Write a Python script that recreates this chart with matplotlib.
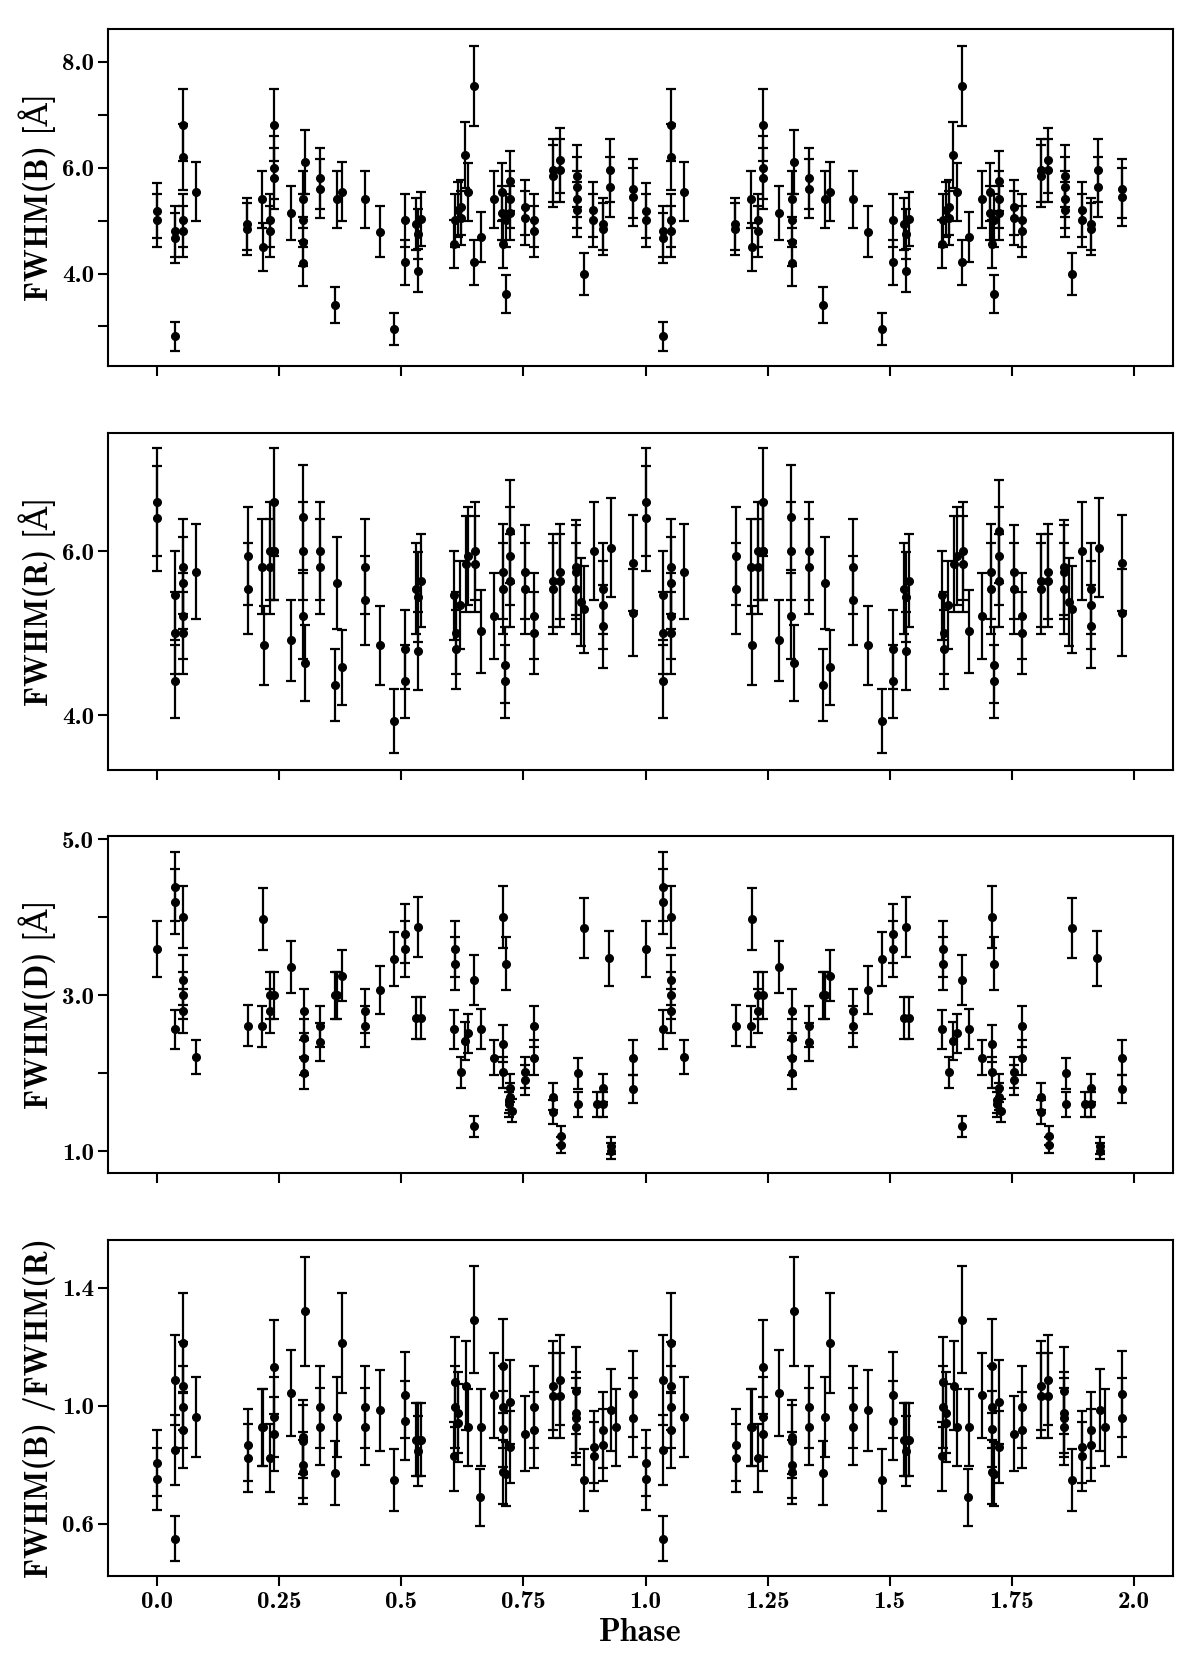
import numpy as np
import matplotlib.pyplot as plt

plt.rcParams['font.family'] = ['cmb10', 'DejaVu Serif']
plt.rcParams['font.weight'] = 'bold'
plt.rcParams['axes.unicode_minus'] = False

# FWHM of the blue peak, phase 0-1 (plotted twice)
phase_b = [0.000, 0.000, 0.036, 0.036, 0.036, 0.052, 0.052, 0.052, 0.052, 0.079,
           0.184, 0.184, 0.215, 0.217, 0.230, 0.230, 0.240, 0.240, 0.240, 0.273,
           0.303, 0.299, 0.299, 0.299, 0.299, 0.334, 0.334, 0.364, 0.368, 0.378,
           0.425, 0.456, 0.485, 0.507, 0.507, 0.529, 0.534, 0.534, 0.540, 0.608,
           0.610, 0.615, 0.621, 0.621, 0.630, 0.637, 0.648, 0.648, 0.663, 0.689,
           0.706, 0.706, 0.709, 0.714, 0.714, 0.723, 0.723, 0.723, 0.754, 0.754,
           0.772, 0.772, 0.810, 0.810, 0.825, 0.825, 0.860, 0.860, 0.860, 0.860,
           0.873, 0.893, 0.893, 0.912, 0.912, 0.927, 0.927, 0.975, 0.975]
fwhm_b = [5.19, 5.01, 4.80, 4.67, 2.81, 6.81, 6.20, 5.01, 4.80, 5.55,
          4.93, 4.84, 5.40, 4.50, 5.01, 4.80, 6.81, 6.00, 5.80, 5.14,
          6.11, 5.40, 5.01, 4.60, 4.19, 5.80, 5.60, 3.41, 5.40, 5.55,
          5.40, 4.79, 2.95, 5.01, 4.21, 4.93, 4.74, 4.05, 5.03, 4.55,
          5.01, 5.21, 5.25, 5.05, 6.24, 5.54, 7.55, 4.21, 4.69, 5.40,
          5.54, 5.14, 4.55, 3.61, 5.01, 5.75, 5.40, 5.14, 5.25, 5.05,
          5.01, 4.80, 5.95, 5.85, 6.14, 5.95, 5.84, 5.63, 5.40, 5.21,
          3.99, 5.21, 5.01, 4.94, 4.84, 5.95, 5.63, 5.60, 5.45]

# FWHM of the red peak
phase_r = [0.000, 0.000, 0.036, 0.036, 0.036, 0.052, 0.052, 0.052, 0.052, 0.079,
           0.185, 0.185, 0.215, 0.218, 0.230, 0.230, 0.240, 0.240, 0.240, 0.273,
           0.298, 0.298, 0.298, 0.303, 0.334, 0.334, 0.364, 0.368, 0.378, 0.425,
           0.425, 0.456, 0.485, 0.507, 0.507, 0.529, 0.534, 0.534, 0.540, 0.608,
           0.611, 0.611, 0.619, 0.632, 0.637, 0.650, 0.650, 0.663, 0.689, 0.708,
           0.708, 0.713, 0.713, 0.723, 0.723, 0.723, 0.754, 0.754, 0.772, 0.772,
           0.810, 0.810, 0.825, 0.825, 0.858, 0.858, 0.858, 0.868, 0.873, 0.894,
           0.912, 0.912, 0.912, 0.929, 0.975, 0.975]
fwhm_r = [6.60, 6.40, 5.46, 5.00, 4.41, 5.81, 5.61, 5.21, 5.00, 5.75,
          5.94, 5.54, 5.81, 4.85, 6.00, 5.81, 6.60, 6.00, 6.00, 4.91,
          6.41, 6.00, 5.21, 4.63, 6.00, 5.81, 4.37, 5.61, 4.58, 5.81,
          5.40, 4.85, 3.93, 4.80, 4.41, 5.54, 5.44, 4.78, 5.64, 5.46,
          5.00, 4.80, 5.34, 5.84, 5.94, 6.00, 5.84, 5.02, 5.21, 5.75,
          5.54, 4.61, 4.41, 6.24, 5.94, 5.64, 5.74, 5.54, 5.21, 5.00,
          5.54, 5.64, 5.75, 5.64, 5.74, 5.54, 5.80, 5.38, 5.29, 6.00,
          5.34, 5.54, 5.08, 6.04, 5.85, 5.25]

# FWHM of the whole line (D)
phase_d = [0.000, 0.036, 0.036, 0.036, 0.052, 0.052, 0.052, 0.052, 0.079, 0.185,
           0.215, 0.217, 0.230, 0.230, 0.240, 0.273, 0.300, 0.300, 0.300, 0.300,
           0.334, 0.334, 0.364, 0.368, 0.378, 0.425, 0.425, 0.456, 0.485, 0.507,
           0.507, 0.529, 0.534, 0.540, 0.608, 0.610, 0.610, 0.621, 0.630, 0.637,
           0.648, 0.649, 0.663, 0.689, 0.709, 0.709, 0.709, 0.714, 0.720, 0.720,
           0.723, 0.723, 0.727, 0.754, 0.754, 0.772, 0.772, 0.810, 0.810, 0.826,
           0.826, 0.862, 0.862, 0.873, 0.900, 0.913, 0.913, 0.925, 0.930, 0.930,
           0.975, 0.975]
fwhm_d = [3.59, 4.39, 4.20, 2.56, 4.00, 3.20, 3.00, 2.80, 2.21, 2.61,
          2.60, 3.98, 3.00, 2.80, 3.00, 3.36, 2.80, 2.45, 2.20, 2.00,
          2.60, 2.40, 3.00, 3.00, 3.25, 2.80, 2.60, 3.07, 3.46, 3.79,
          3.59, 2.71, 3.87, 2.71, 2.56, 3.59, 3.40, 2.01, 2.41, 2.51,
          3.20, 1.32, 2.57, 2.20, 4.00, 2.38, 2.01, 3.40, 1.60, 1.65,
          1.81, 1.70, 1.52, 2.01, 1.91, 2.60, 2.20, 1.70, 1.50, 1.20,
          1.08, 2.00, 1.60, 3.86, 1.60, 1.81, 1.60, 3.47, 1.07, 1.00,
          1.80, 2.20]

# FWHM(B)/FWHM(R)
phase_q = [0.000, 0.000, 0.036, 0.036, 0.036, 0.052, 0.052, 0.052, 0.052, 0.079,
           0.185, 0.185, 0.215, 0.217, 0.230, 0.240, 0.240, 0.240, 0.273, 0.303,
           0.299, 0.299, 0.299, 0.299, 0.334, 0.334, 0.364, 0.368, 0.378, 0.425,
           0.425, 0.456, 0.485, 0.507, 0.507, 0.529, 0.534, 0.534, 0.540, 0.608,
           0.610, 0.610, 0.615, 0.615, 0.632, 0.637, 0.648, 0.660, 0.663, 0.689,
           0.709, 0.709, 0.709, 0.709, 0.714, 0.723, 0.723, 0.754, 0.772, 0.772,
           0.810, 0.810, 0.825, 0.825, 0.858, 0.858, 0.858, 0.858, 0.873, 0.894,
           0.894, 0.912, 0.912, 0.930, 0.940, 0.975, 0.975]
ratio_q = [0.807, 0.753, 1.089, 0.850, 0.550, 1.214, 1.067, 0.997, 0.920, 0.962,
           0.867, 0.825, 0.928, 0.928, 0.825, 1.132, 0.963, 0.905, 1.044, 1.321,
           0.894, 0.880, 0.801, 0.775, 0.997, 0.930, 0.773, 0.962, 1.213, 0.997,
           0.930, 0.985, 0.750, 1.038, 0.950, 0.886, 0.886, 0.846, 0.886, 0.829,
           0.997, 1.081, 0.977, 0.943, 1.069, 0.928, 1.293, 0.690, 0.928, 1.036,
           1.137, 0.997, 0.923, 0.777, 0.770, 1.014, 0.861, 0.906, 0.997, 0.920,
           1.069, 1.035, 1.087, 1.035, 1.052, 0.977, 0.960, 0.930, 0.750, 0.861,
           0.829, 0.920, 0.869, 0.986, 0.928, 1.040, 0.960]

# relative errors
rel_err_fwhm = 0.10
rel_err_ratio = 0.14

panels = [
    (phase_b, fwhm_b, rel_err_fwhm, 'FWHM(B) [Å]', (2.25, 8.62),
     [3, 4, 5, 6, 7, 8], ['', '4.0', '', '6.0', '', '8.0']),
    (phase_r, fwhm_r, rel_err_fwhm, 'FWHM(R) [Å]', (3.33, 7.44),
     [4, 6], ['4.0', '6.0']),
    (phase_d, fwhm_d, rel_err_fwhm, 'FWHM(D) [Å]', (0.72, 5.04),
     [1, 2, 3, 4, 5], ['1.0', '', '3.0', '', '5.0']),
    (phase_q, ratio_q, rel_err_ratio, 'FWHM(B) /FWHM(R)', (0.424, 1.563),
     [0.6, 1.0, 1.4], ['0.6', '1.0', '1.4']),
]
rects = [(0.0904, 0.7809, 0.887, 0.2017),
         (0.0904, 0.5392, 0.887, 0.2017),
         (0.0904, 0.2980, 0.887, 0.2017),
         (0.0904, 0.0569, 0.887, 0.2011)]

xticks = [0.0, 0.25, 0.5, 0.75, 1.0, 1.25, 1.5, 1.75, 2.0]
xlabels = ['0.0', '0.25', '0.5', '0.75', '1.0', '1.25', '1.5', '1.75', '2.0']

fig = plt.figure(figsize=(12, 16.71), dpi=100)
axes = []
for i, (ph, val, rel, label, ylim, yt, ytl) in enumerate(panels):
    ax = fig.add_axes(rects[i])
    ph = np.array(ph)
    val = np.array(val)
    x = np.concatenate([ph, ph + 1])
    y = np.concatenate([val, val])
    ax.errorbar(x, y, yerr=rel * y, fmt='o', color='black', ms=5.5,
                elinewidth=1.6, capsize=3.5, capthick=1.6)
    ax.set_xlim(-0.1, 2.08)
    ax.set_ylim(*ylim)
    ax.set_yticks(yt)
    ax.set_yticklabels(ytl)
    ax.set_xticks(xticks)
    if i == 3:
        ax.set_xticklabels(xlabels)
        ax.set_xlabel('Phase', fontsize=23, labelpad=4)
    else:
        ax.set_xticklabels([])
    ax.set_ylabel(label, fontsize=23)
    ax.tick_params(direction='out', length=7, width=1.5, labelsize=18,
                   top=False, right=False)
    for s in ax.spines.values():
        s.set_linewidth(1.5)
    axes.append(ax)

fig.align_ylabels(axes)
fig.savefig('out.png', dpi=100)
